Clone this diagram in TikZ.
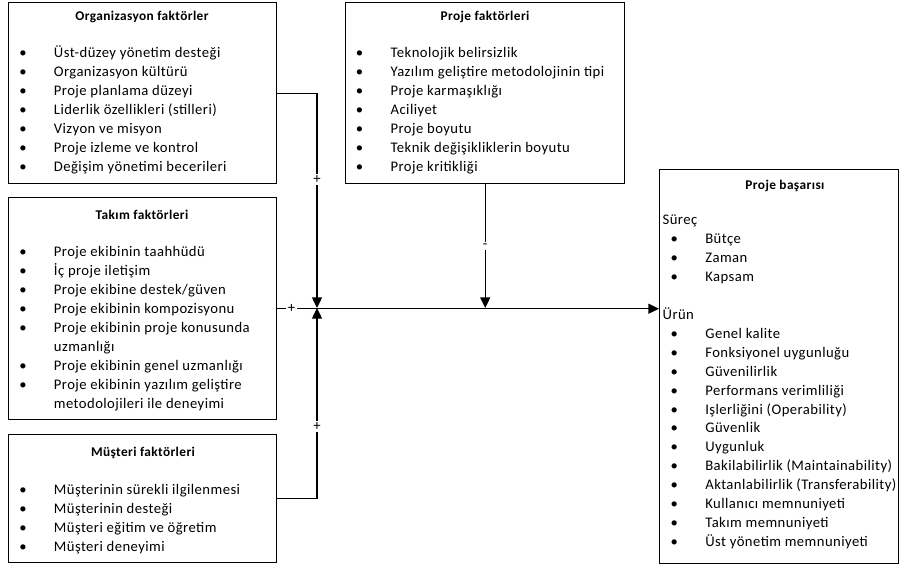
\documentclass[tikz,border=0pt]{standalone}
\usepackage{fontspec}
\setmainfont{Carlito}[LetterSpace=3]
\usetikzlibrary{arrows.meta}

\tikzset{
  kutu/.style={draw, rectangle, line width=1.1pt, anchor=north west, inner sep=0pt},
  baslik/.style={anchor=base, font=\bfseries},
  liste/.style={anchor=north west, inner sep=0pt, align=left},
  isaret/.style={fill=white, inner sep=1.2pt},
}
\newcommand{\mad}{\makebox[26pt][l]{\textbullet}}

\begin{document}
\begin{tikzpicture}[x=0.75pt,y=-0.75pt,line width=1pt,>={Triangle[length=8pt,width=7.5pt]},
  font=\fontsize{11}{14.2}\selectfont]
  \useasboundingbox (0,0) rectangle (901,565);
  % kutular
  \node[kutu, minimum width=201pt, minimum height=135.75pt] (org) at (8,2) {};
  \node[kutu, minimum width=209.25pt, minimum height=135.75pt] (proje) at (345,2) {};
  \node[kutu, minimum width=201pt, minimum height=166.5pt] (takim) at (8,197) {};
  \node[kutu, minimum width=201pt, minimum height=96pt] (musteri) at (8,434) {};
  \node[kutu, minimum width=179.25pt, minimum height=295.5pt] (basari) at (659,169) {};
  % basliklar
  \node[baslik] (orgbaslik) at (142,20.5) {Organizasyon faktörler};
  \node[baslik] (projebaslik) at (485,20.5) {Proje faktörleri};
  \node[baslik] (takimbaslik) at (142,219) {Takım faktörleri};
  \node[baslik] (musteribaslik) at (143,456) {Müşteri faktörleri};
  \node[baslik] (basaribaslik) at (785,189) {Proje başarısı};
  % maddeler
  \node[liste] (orgmetin) at (18.6,43.75) {\strut\mad Üst-düzey yönetim desteği\\
    \mad Organizasyon kültürü\\ \mad Proje planlama düzeyi\\
    \mad Liderlik özellikleri (stilleri)\\ \mad Vizyon ve misyon\\
    \mad Proje izleme ve kontrol\\ \mad Değişim yönetimi becerileri};
  \node[liste] (projemetin) at (355.3,43.75) {\strut\mad Teknolojik belirsizlik\\
    \mad Yazılım geliştire metodolojinin tipi\\ \mad Proje karmaşıklığı\\
    \mad Aciliyet\\ \mad Proje boyutu\\
    \mad Teknik değişikliklerin boyutu\\ \mad Proje kritikliği};
  \node[liste] (takimmetin) at (18.6,242.75) {\strut\mad Proje ekibinin taahhüdü\\
    \mad İç proje iletişim\\ \mad Proje ekibine destek/güven\\
    \mad Proje ekibinin kompozisyonu\\ \mad Proje ekibinin proje konusunda\\
    \hspace*{26pt}uzmanlığı\\ \mad Proje ekibinin genel uzmanlığı\\
    \mad Proje ekibinin yazılım geliştire\\ \hspace*{26pt}metodolojileri ile deneyimi};
  \node[liste] (musterimetin) at (18.6,480.75) {\strut\mad Müşterinin sürekli ilgilenmesi\\
    \mad Müşterinin desteği\\ \mad Müşteri eğitim ve öğretim\\ \mad Müşteri deneyimi};
  \node[liste] (basarimetin) at (662,210.75) {\strut Süreç\\
    \hspace*{6pt}\mad Bütçe\\ \hspace*{6pt}\mad Zaman\\ \hspace*{6pt}\mad Kapsam\\ \strut\\
    Ürün\\ \hspace*{6pt}\mad Genel kalite\\ \hspace*{6pt}\mad Fonksiyonel uygunluğu\\
    \hspace*{6pt}\mad Güvenilirlik\\ \hspace*{6pt}\mad Performans verimliliği\\
    \hspace*{6pt}\mad Işlerliğini (Operability)\\ \hspace*{6pt}\mad Güvenlik\\
    \hspace*{6pt}\mad Uygunluk\\ \hspace*{6pt}\mad Bakilabilirlik (Maintainability)\\
    \hspace*{6pt}\mad Aktanlabilirlik (Transferability)\\ \hspace*{6pt}\mad Kullanıcı memnuniyeti\\
    \hspace*{6pt}\mad Takım memnuniyeti\\ \hspace*{6pt}\mad Üst yönetim memnuniyeti};
  % baglantilar
  \coordinate (merkez) at (317,308);
  \draw[->] (org.east) -| node[isaret, pos=0.7]{+} (merkez);
  \draw[->] (musteri.east) -| node[isaret, pos=0.69]{+} (merkez);
  \draw[->] (proje.south) -- node[isaret]{-} (proje.south |- merkez);
  \draw[->] (takim.east) -- node[isaret, pos=0.037]{+} (takim.east -| basari.west);
\end{tikzpicture}
\end{document}
